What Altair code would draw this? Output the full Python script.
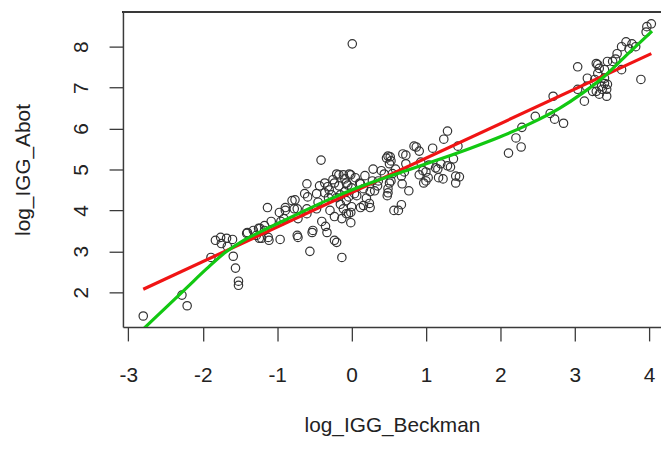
import altair as alt
import pandas as pd

# ---- scatter data ----
x_beckman = [
    -2.80, -2.28, -2.21, -1.89, -1.83, -1.76, -1.75, -1.68, -1.60, -1.67,
    -1.59, -1.56, -1.52, -1.52, -1.41, -1.32, -1.28, -1.23, -1.17, -1.12,
    -1.21, -1.13, -0.96, -0.97, -0.89, -0.91, -0.80, -0.77, -0.73, -0.72,
    -0.63, -0.60, -0.60, -0.52, -0.56, -0.47, -0.41, -0.43, -0.36, -0.35,
    -0.31, -0.29, -0.23, -0.20, -0.17, -0.20, -0.13, -0.09, -0.07, -0.03,
    -0.04, 0.01, 0.04, 0.11, 0.16, 0.24, 0.29, 0.31, 0.40, 0.47,
    0.51, 0.57, 0.53, 0.49, 0.53, 0.51, 0.49, 0.67, 0.69, 0.73,
    0.63, 0.67, 0.84, 0.91, 0.96, 0.97, 1.03, 1.09, 1.13, 1.17,
    1.20, 1.24, 1.29, 1.29, 1.37, 1.43, 1.40, 1.40, 2.11, 2.21,
    2.28, 2.29, 2.47, 2.67, 2.71, 2.73, 2.85, 3.04, 3.04, 3.13,
    3.16, 3.24, 3.27, 3.31, 3.37, 3.43, 3.40, 3.43, 3.33, 3.40,
    3.51, 3.57, 3.63, 3.69, 3.73, 3.77, 3.63, 3.89, 3.97, 4.03,
    3.96, -0.17, -0.11, -0.23, -0.07, 0.00, -0.32, -0.36, -0.27, -0.15,
    -0.04, 0.00, -0.07, -0.13, -0.23, -0.20, -0.59, -0.60, -0.76, -0.73,
    -0.89, -0.95, -1.08, -1.17, -1.25, -1.24, -1.11, -0.72, -0.53, -0.33,
    -0.47, -0.40, -1.40, 0.87, 0.73, 0.93, 1.04, 1.16, 1.33, 1.45,
    1.23, 1.00, 1.00, 0.91, 0.52, 0.59, 0.71, 0.68, 0.44, 0.36,
    0.28, 0.25, 0.16, 0.12, 0.07, -0.01, -0.09, -0.11, -0.01, 0.12,
    0.25, -0.01, 0.48, 0.49, 0.77, 3.44, 3.29, 3.31, 3.17, 3.40,
    3.44, 3.36, 3.29, 3.33, 3.82, 3.55, -0.25, -0.05, 0.05, 0.18,
    -0.30, 0.20, 0.35, 0.55, -0.45, -0.15,
]
y_abbot = [
    1.42, 1.93, 1.67, 2.85, 3.27, 3.34, 3.19, 3.32, 3.29, 3.12,
    2.88, 2.59, 2.27, 2.17, 3.44, 3.51, 3.39, 3.56, 3.63, 3.34,
    3.32, 4.07, 3.29, 3.95, 4.07, 3.80, 4.24, 4.04, 3.39, 3.80,
    4.41, 4.65, 3.92, 3.51, 3.00, 4.41, 5.23, 4.60, 4.67, 3.61,
    4.31, 4.00, 3.27, 4.89, 4.60, 4.31, 2.85, 4.77, 4.24, 4.89,
    3.92, 8.07, 4.41, 4.67, 4.12, 4.17, 5.01, 4.48, 4.97, 5.28,
    5.14, 4.00, 4.72, 5.33, 5.21, 4.67, 4.43, 4.84, 5.38, 5.14,
    4.00, 4.14, 5.57, 5.45, 4.97, 4.67, 4.80, 5.52, 5.04, 4.80,
    5.14, 5.74, 5.94, 5.09, 5.26, 5.57, 4.84, 4.67, 5.40, 5.77,
    5.55, 6.03, 6.30, 6.37, 6.79, 6.23, 6.13, 7.51, 6.96, 6.67,
    7.03, 6.91, 7.20, 7.56, 6.96, 6.96, 7.10, 6.79, 7.47, 7.44,
    7.64, 7.83, 8.00, 8.12, 7.95, 8.07, 7.44, 7.20, 8.49, 8.56,
    8.36, 4.87, 4.87, 4.67, 4.67, 4.55, 4.58, 4.43, 4.38, 4.38,
    4.33, 4.09, 3.92, 3.80, 3.85, 3.22, 4.33, 4.04, 4.26, 4.04,
    4.00, 3.73, 3.73, 3.51, 3.56, 3.32, 3.27, 3.34, 3.46, 3.46,
    4.04, 3.73, 3.46, 5.55, 5.35, 5.18, 5.11, 5.01, 5.06, 4.82,
    4.77, 4.72, 4.94, 4.87, 5.31, 5.01, 4.94, 4.65, 4.89, 4.72,
    4.72, 4.46, 4.53, 4.65, 4.36, 4.87, 4.46, 4.04, 3.95, 4.07,
    4.07, 3.70, 4.36, 4.53, 4.48, 7.64, 7.59, 7.35, 7.23, 7.23,
    7.08, 7.03, 6.91, 6.84, 8.00, 7.70, 4.75, 4.62, 4.80, 4.85,
    4.50, 4.30, 4.60, 4.90, 4.20, 4.15,
]

# ---- fitted curves ----
linear_x = [-2.80, 4.03]
linear_y = [2.075, 7.83]
smooth_x = [-2.80, -2.50, -2.20, -1.95, -1.70, -1.45, -1.20, -0.90, -0.60, -0.30, 0.00,
            0.40, 0.80, 1.20, 1.60, 2.00, 2.40, 2.80, 3.10, 3.40, 3.70, 4.04]
smooth_y = [1.10, 1.62, 2.14, 2.57, 2.97, 3.27, 3.50, 3.76, 4.02, 4.27, 4.50,
            4.77, 5.01, 5.26, 5.52, 5.80, 6.12, 6.50, 6.86, 7.28, 7.80, 8.38]

x_ticks = [-3, -2, -1, 0, 1, 2, 3, 4]
y_ticks = [2, 3, 4, 5, 6, 7, 8]
x_title = "log_IGG_Beckman"
y_title = "log_IGG_Abot"

X_DOMAIN = [-3.073, 4.16]
Y_DOMAIN = [1.15, 8.85]
W, H = 543, 318
FONT = "Liberation Sans"
AXIS_COL = "#3a3a3a"
TEXT_COL = "#222222"

pts = pd.DataFrame({"x": x_beckman, "y": y_abbot})
lin = pd.DataFrame({"x": linear_x, "y": linear_y})
smo = pd.DataFrame({"x": smooth_x, "y": smooth_y})

xscale = alt.Scale(domain=X_DOMAIN, nice=False, zero=False)
yscale = alt.Scale(domain=Y_DOMAIN, nice=False, zero=False)

x_axis = alt.Axis(
    values=x_ticks, labelExpr="toString(datum.value)", grid=False,
    tickSize=14, tickWidth=1.3, tickColor=AXIS_COL,
    domainColor=AXIS_COL, domainWidth=1.5,
    labelFont=FONT, labelFontSize=21, labelColor=TEXT_COL, labelPadding=24,
    labelFlush=False, labelOverlap=False,
    title=x_title, titleFont=FONT, titleFontSize=21, titleFontWeight="normal",
    titleColor=TEXT_COL, titleBaseline="alphabetic", titleAlign="center",
    titleX=W / 2, titleY=105,
)
y_axis = alt.Axis(
    values=y_ticks, labelExpr="toString(datum.value)", grid=False,
    tickSize=14, tickWidth=1.3, tickColor=AXIS_COL,
    domainColor=AXIS_COL, domainWidth=1.5,
    labelFont=FONT, labelFontSize=21, labelColor=TEXT_COL, labelPadding=22,
    labelAngle=270, labelAlign="center", labelBaseline="alphabetic",
    labelFlush=False, labelOverlap=False,
    title=y_title, titleFont=FONT, titleFontSize=21, titleFontWeight="normal",
    titleColor=TEXT_COL, titleAngle=270, titleBaseline="alphabetic",
    titleAlign="center", titleX=-94, titleY=H / 2,
)

xenc = alt.X("x:Q", scale=xscale, axis=x_axis)
yenc = alt.Y("y:Q", scale=yscale, axis=y_axis)

points = alt.Chart(pts).mark_point(
    shape="circle", filled=False, size=72, strokeWidth=1.2,
    color="#333333", opacity=1,
).encode(x=xenc, y=yenc)

red = alt.Chart(lin).mark_line(color="#f01414", strokeWidth=3.2, clip=True).encode(x=xenc, y=yenc)
green = alt.Chart(smo).mark_line(
    color="#12c812", strokeWidth=3.2, interpolate="monotone", clip=True
).encode(x=xenc, y=yenc)

top_border = alt.Chart(pts).mark_rule(color=AXIS_COL, strokeWidth=1.5).encode(
    y=alt.datum(Y_DOMAIN[1])
)

chart = alt.layer(points, red, green, top_border).properties(
    width=W, height=H,
    autosize=alt.AutoSizeParams(type="none"),
    padding={"left": 116, "top": 2, "right": 0, "bottom": 110},
    background="white",
).configure_view(stroke=None)

chart.save("out.html", embed_options={"renderer": "svg", "actions": False})
